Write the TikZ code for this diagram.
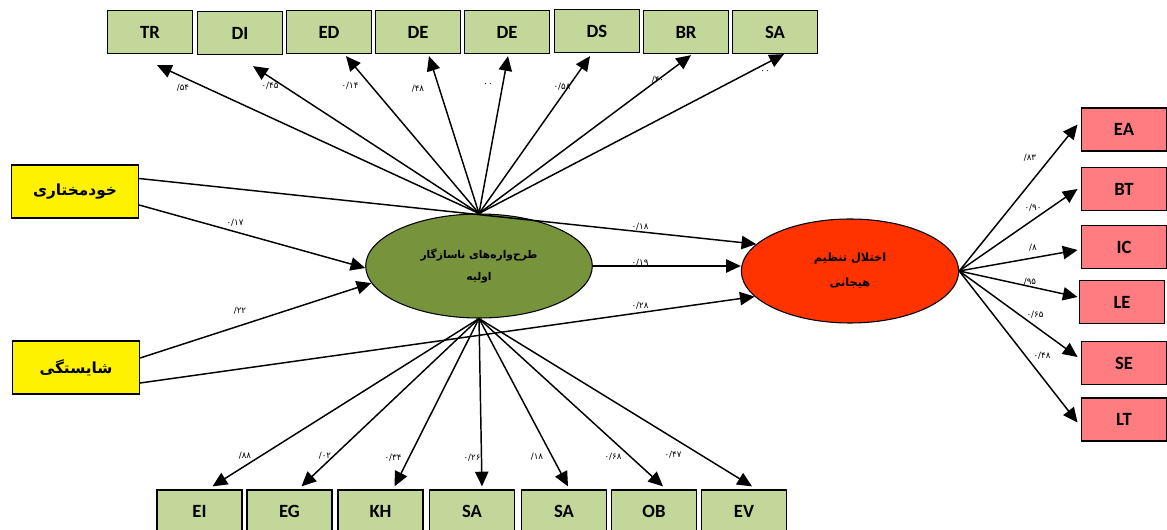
\documentclass[tikz,border=0pt]{standalone}
\usepackage{fontspec}
\usepackage{xcolor}
\usetikzlibrary{shapes.geometric,arrows.meta}
\TeXXeTstate=1
\newfontfamily\latinfont{Carlito}
\newfontfamily\farsi[Script=Arabic]{DejaVu Sans}
\newfontfamily\digitfont{DejaVu Sans}
\definecolor{obsgreen}{HTML}{C4D79B}
\definecolor{latgreen}{HTML}{77933C}
\definecolor{latred}{HTML}{FF3300}
\definecolor{obspink}{HTML}{FF7C80}

\begin{document}
\begin{tikzpicture}[x=0.75pt,y=-0.75pt,
	obs/.style={draw, line width=1.2pt, fill=obsgreen, minimum width=64pt, minimum height=32pt, inner sep=0pt, font=\latinfont\bfseries\fontsize{14}{16}\selectfont},
	ind/.style={obs, fill=obspink},
	src/.style={draw, line width=1.2pt, fill=yellow, minimum width=95pt, minimum height=40pt, inner sep=0pt, font=\farsi\bfseries\fontsize{11.5}{14}\selectfont},
	lat/.style={ellipse, draw, line width=0.8pt, minimum height=78pt, inner sep=0pt, align=center},
	coef/.style={font=\digitfont\fontsize{6.5}{7}\selectfont, inner sep=0pt},
	arr/.style={-{Triangle[length=11pt,width=10pt]}, line width=1.1pt}]

	\useasboundingbox (0,0) rectangle (1167,530);

	% latent variables
	\node[lat, fill=latgreen, minimum width=170pt, font=\farsi\bfseries\fontsize{8}{17}\selectfont] (ems) at (479,266)
		{\beginR طرح‌واره‌های ناسازگار\endR\\\beginR اولیه\endR};
	\node[lat, fill=latred, minimum width=163pt, font=\farsi\bfseries\fontsize{8.5}{19}\selectfont] (ed) at (850,271)
		{\beginR اختلال تنظیم\endR\\\beginR هیجانی\endR};

	% yellow boxes
	\node[src] (auto) at (75,191.5) {\beginR خودمختاری\endR};
	\node[src] (comp) at (76,367.5) {\beginR شایستگی\endR};

	% top indicators
	\node[obs] (tr) at (150,32) {TR};
	\node[obs] (di) at (240,33) {DI};
	\node[obs] (edd) at (329,32) {ED};
	\node[obs] (dea) at (418,32) {DE};
	\node[obs] (deb) at (507,32) {DE};
	\node[obs] (ds) at (597,31) {DS};
	\node[obs] (br) at (686,32) {BR};
	\node[obs] (saa) at (775,32) {SA};

	% bottom indicators
	\node[obs] (ei) at (199.5,511.5) {EI};
	\node[obs] (eg) at (289.5,511.5) {EG};
	\node[obs] (kh) at (380.5,511.5) {KH};
	\node[obs] (sab) at (472,511.5) {SA};
	\node[obs] (sac) at (564,511.5) {SA};
	\node[obs] (ob) at (654,511.5) {OB};
	\node[obs] (ev) at (744,511.5) {EV};

	% right indicators
	\node[ind] (ea) at (1124,129.5) {EA};
	\node[ind] (bt) at (1124,189) {BT};
	\node[ind] (ic) at (1124,247) {IC};
	\node[ind] (le) at (1122,302) {LE};
	\node[ind] (se) at (1124,363) {SE};
	\node[ind] (lt) at (1124,419.5) {LT};

	\draw[arr] (ems.north) -- ([shift={(7,11)}]tr.south);
	\draw[arr] (ems.north) -- ([shift={(13,11)}]di.south);
	\draw[arr] (ems.north) -- ([shift={(17,2)}]edd.south);
	\draw[arr] (ems.north) -- ([shift={(11,2)}]dea.south);
	\draw[arr] (ems.north) -- ([shift={(1,2)}]deb.south);
	\draw[arr] (ems.north) -- ([shift={(-7,3)}]ds.south);
	\draw[arr] (ems.north) -- ([shift={(5,1)}]br.south);
	\draw[arr] (ems.north) -- ([shift={(9,0)}]saa.south);

	\draw[arr] (ems.south) -- ([shift={(13,-3)}]ei.north);
	\draw[arr] (ems.south) -- ([shift={(12,-3)}]eg.north);
	\draw[arr] (ems.south) -- ([shift={(14,-3)}]kh.north);
	\draw[arr] (ems.south) -- ([shift={(10,-3)}]sab.north);
	\draw[arr] (ems.south) -- ([shift={(4,-3)}]sac.north);
	\draw[arr] (ems.south) -- ([shift={(9,-3)}]ob.north);
	\draw[arr] (ems.south) -- ([shift={(8,-3)}]ev.north);

	\draw[arr] (ed.east) -- ([shift={(-3,-5)}]ea.west);
	\draw[arr] (ed.east) -- ([shift={(-3,0)}]bt.west);
	\draw[arr] (ed.east) -- ([shift={(-3,3)}]ic.west);
	\draw[arr] (ed.east) -- ([shift={(-1,-5)}]le.west);
	\draw[arr] (ed.east) -- ([shift={(-3,-6)}]se.west);
	\draw[arr] (ed.east) -- ([shift={(-3,3)}]lt.west);

	\draw[arr] ([shift={(0,-13)}]auto.east) -- (ed.164);
	\draw[arr] ([shift={(0,13.5)}]auto.east) -- (ems.181);
	\draw[arr] ([shift={(0,-9.5)}]comp.east) -- (ems.189);
	\draw[arr] ([shift={(0,15.5)}]comp.east) -- (ed.195);
	\draw[arr] (ems.east) -- (ems.east -| ed.west);

	% coefficients
	\node[coef] (c1) at (183,88) {/۵۴};
	\node[coef] (c2) at (270,86) {۰/۴۵};
	\node[coef] (c3) at (350,86) {۰/۱۴};
	\node[coef] (c4) at (418,89) {/۴۸};
	\node[coef] (c5) at (488,85) {۰۰};
	\node[coef] (c6) at (562,87) {۰/۵۸};
	\node[coef] (c7) at (658,80) {/۴۰};
	\node[coef] (c8) at (765,72) {۰۰};

	\node[coef] (c9) at (245,456) {/۸۸};
	\node[coef] (c10) at (325,456) {/۰۲};
	\node[coef] (c11) at (393,458) {۰/۳۴};
	\node[coef] (c12) at (472,458) {۰/۲۶};
	\node[coef] (c13) at (537,457) {/۱۸};
	\node[coef] (c14) at (613,457) {۰/۶۸};
	\node[coef] (c15) at (673,455) {۰/۴۷};

	\node[coef] (c16) at (1030,158) {/۸۳};
	\node[coef] (c17) at (1033,208) {۰/۹۰};
	\node[coef] (c18) at (1033,248) {/۸};
	\node[coef] (c19) at (1030,282) {/۹۵};
	\node[coef] (c20) at (1035,315) {۰/۶۵};
	\node[coef] (c21) at (1042,356) {۰/۴۸};

	\node[coef] (c22) at (235,223) {۰/۱۷};
	\node[coef] (c23) at (240,311) {/۲۲};
	\node[coef] (c24) at (640,227) {۰/۱۸};
	\node[coef] (c25) at (640,263) {۰/۱۹};
	\node[coef] (c26) at (640,306) {۰/۲۸};

\end{tikzpicture}
\end{document}
